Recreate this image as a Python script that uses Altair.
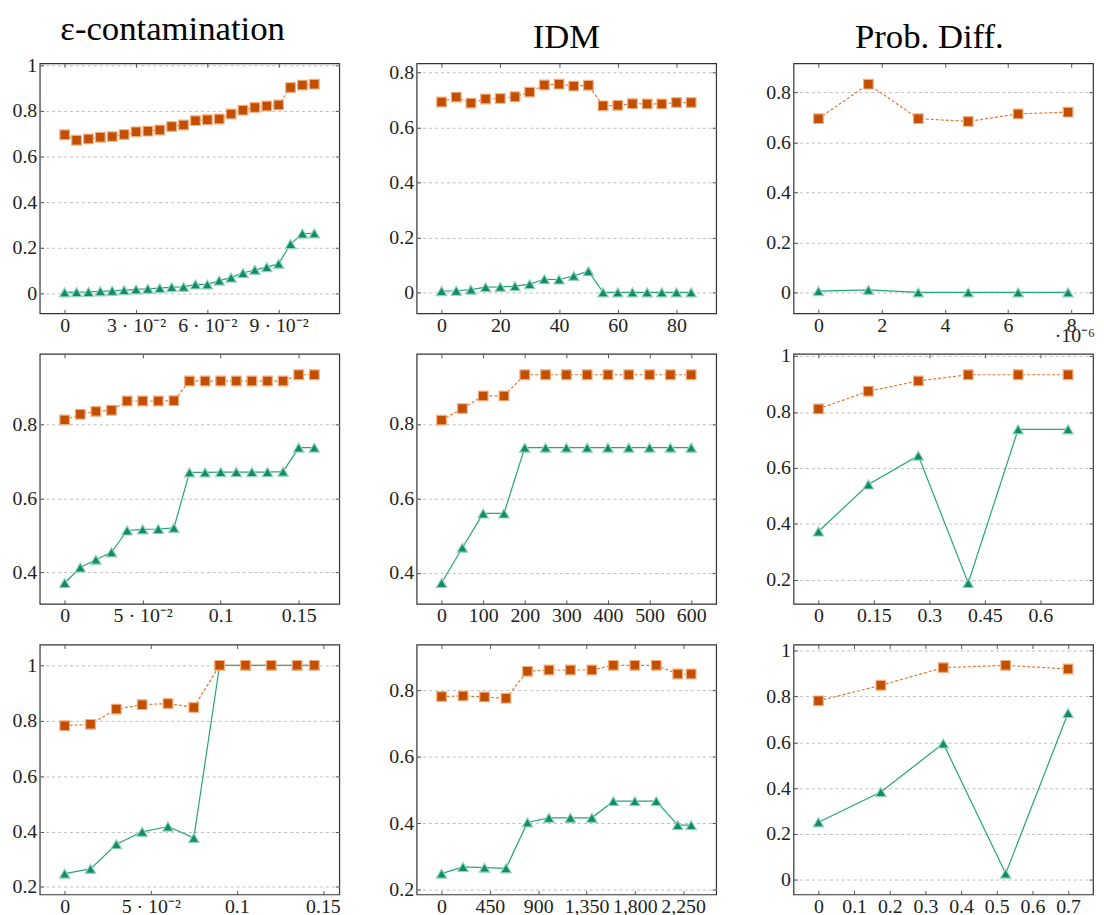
import json
import altair as alt
import pandas as pd

FONT = "Liberation Serif"
ORANGE_LINE = "#e8772e"
ORANGE_FILL = "#c24f00"
ORANGE_EDGE = "#f3ad7f"
GREEN_LINE = "#27a37d"
GREEN_FILL = "#15896a"
GREEN_EDGE = "#8ed5ba"

COL_TITLES = ["ε-contamination", "IDM", "Prob. Diff."]

# ---------------- Row 1 ----------------
eps1_x = [0.0, 0.005, 0.01, 0.015, 0.02, 0.025, 0.03, 0.035, 0.04, 0.045, 0.05,
          0.055, 0.06, 0.065, 0.07, 0.075, 0.08, 0.085, 0.09, 0.095, 0.1, 0.105]
eps1_orange = [0.695, 0.671, 0.677, 0.684, 0.687, 0.696, 0.708, 0.711, 0.716, 0.731, 0.738,
               0.757, 0.761, 0.764, 0.786, 0.803, 0.815, 0.821, 0.826, 0.902, 0.913, 0.917]
eps1_green = [0.004, 0.005, 0.006, 0.009, 0.011, 0.014, 0.017, 0.020, 0.023, 0.027, 0.028,
              0.039, 0.039, 0.056, 0.069, 0.089, 0.103, 0.115, 0.130, 0.216, 0.262, 0.263]
eps1_xticks = [0, 0.03, 0.06, 0.09]
eps1_xlabels = ["0", "3 · 10⁻²", "6 · 10⁻²", "9 · 10⁻²"]
eps1_yticks = [0, 0.2, 0.4, 0.6, 0.8, 1]

idm1_x = [0, 5, 10, 15, 20, 25, 30, 35, 40, 45, 50, 55, 60, 65, 70, 75, 80, 85]
idm1_orange = [0.693, 0.711, 0.689, 0.704, 0.706, 0.712, 0.729, 0.755, 0.758, 0.751, 0.754,
               0.679, 0.681, 0.687, 0.686, 0.686, 0.691, 0.691]
idm1_green = [0.005, 0.006, 0.010, 0.019, 0.020, 0.023, 0.030, 0.048, 0.047, 0.060, 0.077,
              0.0, 0.0, 0.0, 0.0, 0.0, 0.0, 0.0]
idm1_xticks = [0, 20, 40, 60, 80]
idm1_xlabels = ["0", "20", "40", "60", "80"]
idm1_yticks = [0, 0.2, 0.4, 0.6, 0.8]

pd1_x = [0.0, 1.58e-6, 3.16e-6, 4.74e-6, 6.32e-6, 7.9e-6]
pd1_orange = [0.695, 0.833, 0.695, 0.684, 0.714, 0.721]
pd1_green = [0.005, 0.010, 0.0, 0.0, 0.0, 0.0]
pd1_xticks = [0, 2e-6, 4e-6, 6e-6, 8e-6]
pd1_xlabels = ["0", "2", "4", "6", "8"]
pd1_yticks = [0, 0.2, 0.4, 0.6, 0.8]

# ---------------- Row 2 ----------------
eps2_x = [0.0, 0.01, 0.02, 0.03, 0.04, 0.05, 0.06, 0.07, 0.08, 0.09, 0.1,
          0.11, 0.12, 0.13, 0.14, 0.15, 0.16]
eps2_orange = [0.812, 0.827, 0.835, 0.838, 0.863, 0.863, 0.863, 0.864, 0.917, 0.917, 0.917,
               0.917, 0.917, 0.917, 0.917, 0.934, 0.934]
eps2_green = [0.371, 0.413, 0.434, 0.454, 0.513, 0.516, 0.517, 0.520, 0.670, 0.670, 0.671,
              0.671, 0.671, 0.671, 0.672, 0.737, 0.737]
eps2_xticks = [0, 0.05, 0.1, 0.15]
eps2_xlabels = ["0", "5 · 10⁻²", "0.1", "0.15"]
eps2_yticks = [0.4, 0.6, 0.8]

idm2_x = [0, 50, 100, 150, 200, 250, 300, 350, 400, 450, 500, 550, 600]
idm2_orange = [0.810, 0.841, 0.875, 0.875, 0.932, 0.932, 0.932, 0.932, 0.932, 0.932, 0.932, 0.932, 0.932]
idm2_green = [0.372, 0.467, 0.559, 0.559, 0.736, 0.736, 0.736, 0.736, 0.736, 0.736, 0.736, 0.736, 0.736]
idm2_xticks = [0, 100, 200, 300, 400, 500, 600]
idm2_xlabels = ["0", "100", "200", "300", "400", "500", "600"]
idm2_yticks = [0.4, 0.6, 0.8]

pd2_x = [0.0, 0.135, 0.27, 0.405, 0.54, 0.675]
pd2_orange = [0.811, 0.874, 0.911, 0.933, 0.933, 0.933]
pd2_green = [0.373, 0.541, 0.644, 0.189, 0.738, 0.738]
pd2_xticks = [0, 0.15, 0.3, 0.45, 0.6]
pd2_xlabels = ["0", "0.15", "0.3", "0.45", "0.6"]
pd2_yticks = [0.2, 0.4, 0.6, 0.8, 1]

# ---------------- Row 3 ----------------
eps3_x = [0.0, 0.015, 0.03, 0.045, 0.06, 0.075, 0.09, 0.105, 0.12, 0.135, 0.145]
eps3_orange = [0.782, 0.787, 0.842, 0.858, 0.862, 0.848, 1.0, 1.0, 1.0, 1.0, 1.0]
eps3_green = [0.248, 0.265, 0.354, 0.399, 0.418, 0.377, 1.0, 1.0, 1.0, 1.0, 1.0]
eps3_xticks = [0, 0.05, 0.1, 0.15]
eps3_xlabels = ["0", "5 · 10⁻²", "0.1", "0.15"]
eps3_yticks = [0.2, 0.4, 0.6, 0.8, 1]

idm3_x = [0, 200, 400, 600, 800, 1000, 1200, 1400, 1600, 1800, 2000, 2200, 2325]
idm3_orange = [0.782, 0.784, 0.781, 0.777, 0.858, 0.862, 0.862, 0.862, 0.876, 0.876, 0.876, 0.850, 0.850]
idm3_green = [0.249, 0.269, 0.267, 0.265, 0.403, 0.417, 0.417, 0.417, 0.467, 0.467, 0.467, 0.395, 0.395]
idm3_xticks = [0, 450, 900, 1350, 1800, 2250]
idm3_xlabels = ["0", "450", "900", "1,350", "1,800", "2,250"]
idm3_yticks = [0.2, 0.4, 0.6, 0.8]

pd3_x = [0.0, 0.175, 0.35, 0.525, 0.7]
pd3_orange = [0.781, 0.849, 0.926, 0.936, 0.920]
pd3_green = [0.251, 0.383, 0.595, 0.027, 0.728]
pd3_xticks = [0, 0.1, 0.2, 0.3, 0.4, 0.5, 0.6, 0.7]
pd3_xlabels = ["0", "0.1", "0.2", "0.3", "0.4", "0.5", "0.6", "0.7"]
pd3_yticks = [0, 0.2, 0.4, 0.6, 0.8, 1]

W, H = 302, 252


def enlarge(vals):
    lo, hi = min(vals), max(vals)
    pad = 0.1 * (hi - lo)
    return [lo - pad, hi + pad]


def panel(xs, orange, green, xticks, xlabels, yticks, title=None, title_dx=0, exp_label=None):
    xdom = enlarge(xs)
    ydom = enlarge(orange + green)
    d_or = pd.DataFrame({"x": xs, "y": orange})
    d_gr = pd.DataFrame({"x": xs, "y": green})
    xs_scale = alt.Scale(domain=xdom, nice=False, zero=False)
    ys_scale = alt.Scale(domain=ydom, nice=False, zero=False)
    label_expr = (f"{json.dumps(xlabels, ensure_ascii=False)}"
                  f"[indexof({json.dumps(xticks)}, datum.value)]")

    ax_bottom = alt.Axis(orient="bottom", values=xticks, labelExpr=label_expr, offset=-4,
                         tickSize=4, domain=False, grid=False, title=None, labelPadding=2)
    ax_left = alt.Axis(orient="left", values=yticks, format="~g", offset=-4, tickSize=4,
                       domain=False, grid=True, gridDash=[3, 3], gridColor="#bdbdbd",
                       gridWidth=1, title=None, labelPadding=3)
    ax_top = alt.Axis(orient="top", values=xticks, labels=False, offset=-4, tickSize=4,
                      domain=False, grid=False, title=None)
    ax_right = alt.Axis(orient="right", values=yticks, labels=False, offset=-4, tickSize=4,
                        domain=False, grid=False, title=None)

    g_line = alt.Chart(d_gr).mark_line(color=GREEN_LINE, strokeWidth=1.2).encode(
        x=alt.X("x:Q", scale=xs_scale, axis=ax_bottom),
        y=alt.Y("y:Q", scale=ys_scale, axis=ax_left),
    )
    g_pts = alt.Chart(d_gr).mark_point(
        shape="triangle-up", filled=True, size=110, fill=GREEN_FILL, stroke=GREEN_EDGE,
        strokeWidth=1.2, opacity=1,
    ).encode(
        x=alt.X("x:Q", scale=xs_scale, axis=ax_top),
        y=alt.Y("y:Q", scale=ys_scale, axis=ax_right),
    )
    o_line = alt.Chart(d_or).mark_line(color=ORANGE_LINE, strokeWidth=1.2, strokeDash=[3, 2]).encode(
        x=alt.X("x:Q", scale=xs_scale, axis=None),
        y=alt.Y("y:Q", scale=ys_scale, axis=None),
    )
    o_pts = alt.Chart(d_or).mark_point(
        shape="square", filled=True, size=95, fill=ORANGE_FILL, stroke=ORANGE_EDGE,
        strokeWidth=1.2, opacity=1,
    ).encode(
        x=alt.X("x:Q", scale=xs_scale, axis=None),
        y=alt.Y("y:Q", scale=ys_scale, axis=None),
    )
    layers = [g_line, g_pts, o_line, o_pts]
    if exp_label:
        txt = alt.Chart(alt.Data(values=[{}])).mark_text(
            text=exp_label, align="right", baseline="alphabetic", font=FONT, fontSize=20,
            color="#222",
        ).encode(x=alt.value(W + 2), y=alt.value(H + 29))
        layers.append(txt)
    ch = alt.layer(*layers).resolve_axis(x="independent", y="independent").properties(
        width=W, height=H)
    if title:
        ch = ch.properties(title=alt.TitleParams(
            text=title, font=FONT, fontSize=35, fontWeight="normal", color="#000",
            anchor="middle", offset=8, dx=title_dx))
    return ch


panels = [
    panel(eps1_x, eps1_orange, eps1_green, eps1_xticks, eps1_xlabels, eps1_yticks,
          title=COL_TITLES[0], title_dx=-17),
    panel(idm1_x, idm1_orange, idm1_green, idm1_xticks, idm1_xlabels, idm1_yticks,
          title=COL_TITLES[1], title_dx=0),
    panel(pd1_x, pd1_orange, pd1_green, pd1_xticks, pd1_xlabels, pd1_yticks,
          title=COL_TITLES[2], title_dx=-14, exp_label="·10⁻⁶"),
    panel(eps2_x, eps2_orange, eps2_green, eps2_xticks, eps2_xlabels, eps2_yticks),
    panel(idm2_x, idm2_orange, idm2_green, idm2_xticks, idm2_xlabels, idm2_yticks),
    panel(pd2_x, pd2_orange, pd2_green, pd2_xticks, pd2_xlabels, pd2_yticks),
    panel(eps3_x, eps3_orange, eps3_green, eps3_xticks, eps3_xlabels, eps3_yticks),
    panel(idm3_x, idm3_orange, idm3_green, idm3_xticks, idm3_xlabels, idm3_yticks),
    panel(pd3_x, pd3_orange, pd3_green, pd3_xticks, pd3_xlabels, pd3_yticks),
]

chart = alt.concat(
    *panels, columns=3, spacing={"row": 41, "column": 78}, bounds="flush",
    padding={"left": 3, "top": 0, "right": 0, "bottom": 0}, background="white",
).configure_view(
    stroke="#333", strokeWidth=1.2,
).configure_axis(
    labelFont=FONT, labelFontSize=20, labelColor="#222", tickColor="#555", tickWidth=1,
)

chart.save("out.html", embed_options={"renderer": "svg", "actions": False})
